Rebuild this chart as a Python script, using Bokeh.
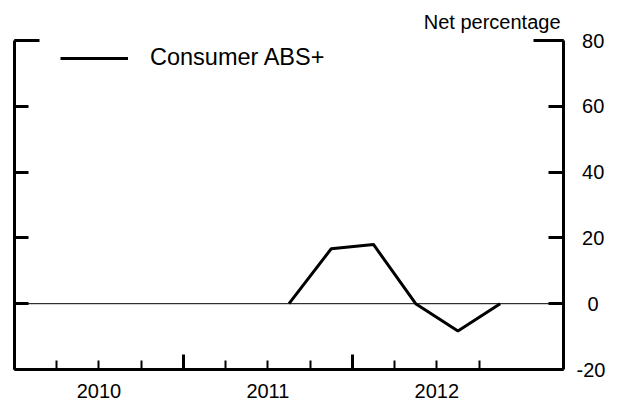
from bokeh.plotting import figure
from bokeh.models import Range1d, LinearAxis, FixedTicker, Span, Legend, LegendItem
from bokeh.embed import file_html
from bokeh.resources import INLINE

# ---- data ----
quarters = [2011.625, 2011.875, 2012.125, 2012.375, 2012.625, 2012.875]
consumer_abs = [0, 16.7, 18.0, 0, -8.3, 0]
year_labels = ["2010", "2011", "2012"]
y_ticks = [-20, 0, 20, 40, 60, 80]
y_tick_labels = ["-20", "\u20070", "\u200820", "\u200840", "\u200860", "\u200880"]
x_start, x_end = 2010.0, 2013.25
y_start, y_end = -20, 80

FONT = "Liberation Sans"

p = figure(width=621, height=405, output_backend="svg", toolbar_location=None,
           x_range=Range1d(x_start, x_end), y_range=Range1d(y_start, y_end),
           x_axis_location=None, y_axis_location=None,
           min_border_left=14, min_border_right=58, min_border_top=40, min_border_bottom=36)
p.grid.visible = False
p.outline_line_color = None
p.background_fill_color = "white"
p.border_fill_color = "white"

# title
p.title.text = "Net percentage"
p.title.align = "right"
p.title.text_font = FONT
p.title.text_font_size = "20px"
p.title.text_font_style = "normal"
p.title.text_color = "black"
p.title.standoff = 16
p.title.offset = 3

# bottom axis: quarter ticks (major, labels at mid-year), year boundary ticks (minor, longer)
years = [int(y) for y in year_labels]
major_x = [y + q for y in years for q in (0.25, 0.5, 0.75)]
minor_x = [float(y) for y in years]
overrides = {}
for y, lab in zip(years, year_labels):
    overrides[y + 0.25] = ""
    overrides[y + 0.5] = lab
    overrides[y + 0.75] = ""
xaxis = LinearAxis(ticker=FixedTicker(ticks=major_x, minor_ticks=minor_x),
                   major_tick_in=9, major_tick_out=0, minor_tick_in=15, minor_tick_out=0,
                   axis_line_width=3, major_tick_line_width=2, minor_tick_line_width=3,
                   major_label_overrides=overrides, major_label_standoff=14,
                   major_label_text_font=FONT, major_label_text_font_size="20px",
                   major_label_text_color="black")
p.add_layout(xaxis, "below")

# right axis
yaxis_r = LinearAxis(ticker=FixedTicker(ticks=y_ticks, minor_ticks=[y_end]),
                     major_tick_in=15, major_tick_out=0, minor_tick_in=30, minor_tick_out=0,
                     axis_line_width=3, major_tick_line_width=3, minor_tick_line_width=3,
                     major_label_overrides=dict(zip(y_ticks, y_tick_labels)),
                     major_label_standoff=13,
                     major_label_text_font=FONT, major_label_text_font_size="20px",
                     major_label_text_color="black")
p.add_layout(yaxis_r, "right")

# left axis (no labels)
yaxis_l = LinearAxis(ticker=FixedTicker(ticks=y_ticks, minor_ticks=[y_end]),
                     major_tick_in=14, major_tick_out=0, minor_tick_in=25, minor_tick_out=0,
                     axis_line_width=3, major_tick_line_width=3, minor_tick_line_width=3,
                     major_label_overrides={t: "" for t in y_ticks}, major_label_standoff=0,
                     major_label_text_font_size="1px")
p.add_layout(yaxis_l, "left")

# zero line
p.add_layout(Span(location=0, dimension="width", line_color="black", line_width=1))

r = p.line(quarters, consumer_abs, line_color="black", line_width=3)

legend = Legend(items=[LegendItem(label="Consumer ABS+", renderers=[r])],
                location=(46, 298), glyph_width=68, label_standoff=22,
                padding=0, margin=0, spacing=0,
                border_line_color=None, background_fill_alpha=0,
                label_text_font=FONT, label_text_font_size="23.5px", label_text_color="black")
p.add_layout(legend)

open("out.html", "w").write(file_html(p, INLINE))
